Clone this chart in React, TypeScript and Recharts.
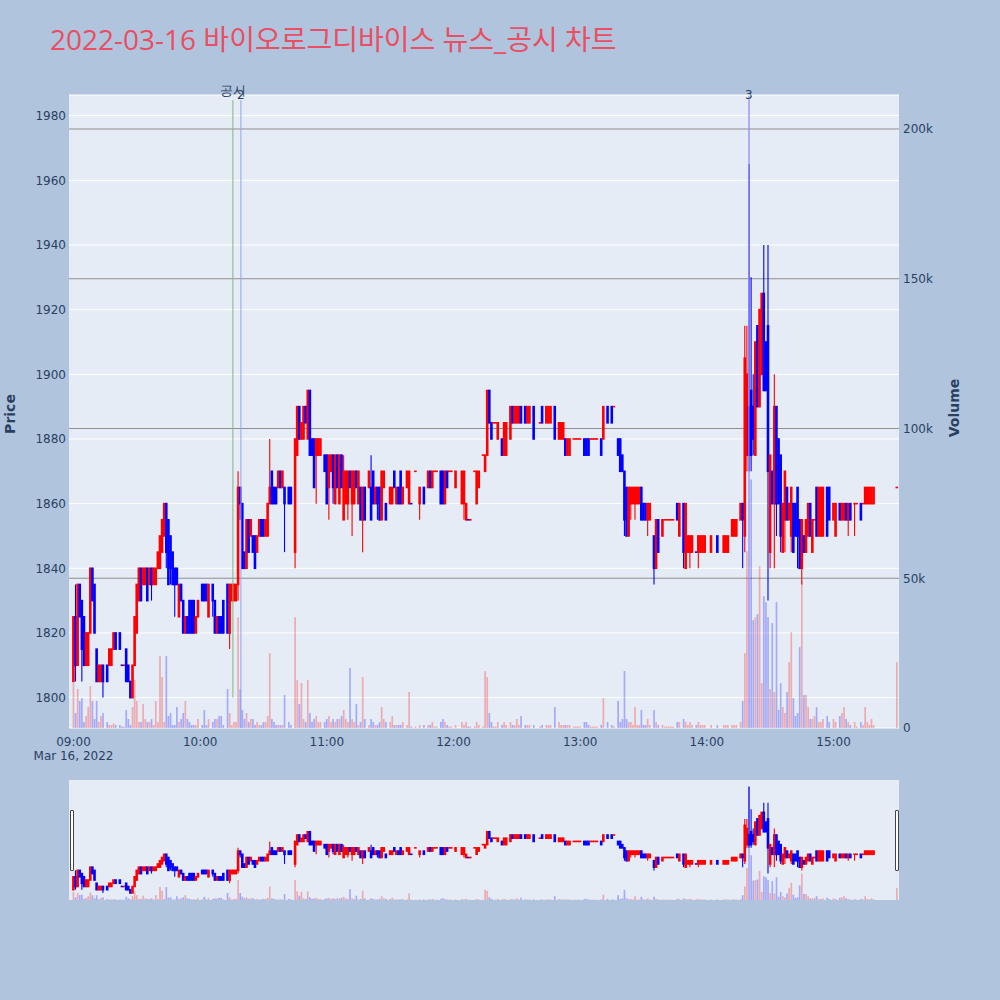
import React from 'react'
import { ComposedChart, Bar, XAxis, YAxis, CartesianGrid, ReferenceLine } from 'recharts'

const RED = '#FF0000'
const BLUE = '#0000FF'
const AXIS_COLOR = '#2a3f5f'
const TITLE_COLOR = '#E94E62'
const FONT = '"DejaVu Sans", Verdana, sans-serif'

const title = '2022-03-16 바이오로그디바이스 뉴스_공시 차트'
const dateLabel = 'Mar 16, 2022'

// minutes after 09:00 with trades (one row per line = one hour)
const minutes = [
  0, 1, 2, 3, 4, 5, 6, 7, 8, 9, 10, 11, 12, 13, 14, 16, 17, 18, 19, 20, 22, 23, 24, 25, 26, 27, 28, 29, 30, 31, 32, 33, 34, 35, 36, 37, 38, 39, 40, 41, 42, 43, 44, 45, 46, 47, 48, 49, 50, 51, 52, 53, 54, 55, 56, 57, 58, 59,
  61, 62, 63, 64, 66, 67, 68, 69, 70, 71, 73, 74, 75, 76, 77, 78, 79, 80, 81, 82, 83, 84, 85, 86, 87, 88, 89, 90, 91, 92, 93, 94, 95, 96, 97, 98, 99, 100, 102, 103, 105, 106, 107, 108, 109, 110, 111, 112, 113, 114, 115, 116, 117, 119,
  120, 121, 122, 123, 124, 125, 126, 127, 128, 129, 130, 131, 132, 133, 134, 135, 136, 137, 138, 140, 141, 142, 143, 144, 145, 146, 147, 148, 150, 151, 152, 153, 154, 155, 156, 158, 159, 160, 162, 164, 166, 168, 169, 170, 171, 172, 174, 175, 176, 177, 178, 179,
  181, 184, 185, 186, 187, 188, 190, 191, 192, 194, 195, 196, 197, 198, 199, 200, 201, 203, 204, 205, 207, 208, 209, 210, 211, 212, 214, 215, 216, 218, 221, 222, 224, 225, 226, 228, 230, 231, 232, 233, 234, 235, 237, 238, 239,
  240, 242, 243, 244, 245, 246, 247, 248, 250, 251, 253, 255, 256, 258, 259, 260, 261, 262, 263, 264, 265, 266, 267, 268, 269, 270, 271, 272, 273, 275, 276, 277, 279, 280, 281, 282, 283, 284, 286, 287, 289, 290, 291, 292, 293, 295, 296, 297, 298, 299,
  302, 305, 308, 309, 310, 312, 313, 314, 316, 317, 318, 319, 320, 321, 322, 323, 324, 325, 326, 327, 328, 329, 330, 331, 332, 333, 334, 335, 336, 337, 338, 339, 340, 341, 342, 343, 344, 345, 346, 347, 348, 349, 350, 351, 352, 353, 354, 355, 357, 358,
  360, 361, 363, 364, 365, 366, 367, 368, 370, 371, 373, 374, 375, 376, 377, 378, 379, 390,
]

const opens = [
  1805, 1825, 1810, 1835, 1830, 1825, 1810, 1810, 1820, 1840, 1835, 1815, 1805, 1805, 1810, 1810, 1810, 1810, 1815, 1820, 1820, 1810, 1810, 1815, 1810, 1805, 1800, 1810, 1820, 1830, 1840, 1835, 1835, 1840, 1835, 1840, 1835, 1835, 1840, 1840, 1845, 1850, 1860, 1855, 1850, 1845, 1840, 1840, 1825, 1835, 1830, 1820, 1825, 1830, 1830, 1830, 1820, 1825,
  1835, 1835, 1835, 1825, 1835, 1830, 1820, 1825, 1825, 1830, 1835, 1820, 1830, 1830, 1830, 1835, 1865, 1860, 1845, 1840, 1855, 1850, 1850, 1850, 1845, 1850, 1855, 1855, 1850, 1850, 1860, 1870, 1865, 1865, 1865, 1870, 1865, 1865, 1865, 1865, 1845, 1875, 1890, 1880, 1880, 1890, 1880, 1895, 1880, 1880, 1875, 1875, 1875, 1875,
  1875, 1865, 1870, 1875, 1860, 1875, 1860, 1875, 1855, 1860, 1860, 1870, 1860, 1860, 1870, 1860, 1865, 1855, 1865, 1865, 1865, 1870, 1860, 1865, 1865, 1855, 1865, 1860, 1860, 1860, 1870, 1860, 1865, 1870, 1860, 1865, 1860, 1860, 1870, 1860, 1865, 1865, 1870, 1865, 1870, 1870, 1870, 1870, 1860, 1870, 1870, 1870,
  1865, 1860, 1860, 1855, 1855, 1855, 1870, 1860, 1865, 1875, 1870, 1875, 1895, 1885, 1885, 1885, 1880, 1880, 1875, 1875, 1880, 1890, 1885, 1885, 1885, 1890, 1890, 1885, 1885, 1890, 1885, 1890, 1885, 1885, 1885, 1890, 1880, 1880, 1880, 1880, 1875, 1875, 1880, 1880, 1880,
  1880, 1880, 1880, 1880, 1880, 1880, 1880, 1880, 1880, 1880, 1890, 1890, 1890, 1880, 1880, 1875, 1870, 1865, 1850, 1860, 1860, 1860, 1860, 1860, 1865, 1860, 1860, 1855, 1855, 1850, 1840, 1855, 1850, 1855, 1855, 1855, 1855, 1855, 1860, 1850, 1860, 1840, 1845, 1845, 1845, 1845, 1845, 1845, 1845, 1845,
  1845, 1850, 1845, 1845, 1845, 1850, 1850, 1850, 1855, 1860, 1850, 1875, 1890, 1895, 1890, 1875, 1915, 1890, 1900, 1925, 1910, 1915, 1845, 1870, 1860, 1890, 1880, 1875, 1845, 1855, 1865, 1855, 1850, 1860, 1860, 1865, 1855, 1840, 1850, 1845, 1850, 1860, 1845, 1855, 1865, 1850, 1850, 1850, 1865, 1865,
  1855, 1850, 1860, 1855, 1855, 1860, 1855, 1860, 1860, 1860, 1860, 1860, 1860, 1860, 1860, 1860, 1860, 1865,
]

const highs = [
  1825, 1835, 1835, 1835, 1830, 1825, 1820, 1820, 1840, 1840, 1835, 1815, 1810, 1810, 1810, 1810, 1815, 1815, 1820, 1820, 1820, 1810, 1810, 1815, 1810, 1805, 1810, 1825, 1835, 1840, 1840, 1840, 1840, 1840, 1840, 1840, 1840, 1840, 1845, 1850, 1855, 1860, 1860, 1855, 1850, 1845, 1840, 1840, 1835, 1835, 1830, 1825, 1825, 1830, 1830, 1830, 1825, 1830,
  1835, 1835, 1835, 1835, 1835, 1830, 1825, 1825, 1825, 1830, 1835, 1835, 1835, 1835, 1835, 1870, 1865, 1860, 1845, 1855, 1855, 1855, 1850, 1850, 1850, 1855, 1855, 1855, 1855, 1860, 1880, 1870, 1865, 1865, 1870, 1870, 1870, 1865, 1865, 1865, 1880, 1890, 1890, 1885, 1890, 1890, 1895, 1895, 1880, 1880, 1880, 1880, 1880, 1875,
  1875, 1875, 1875, 1875, 1875, 1875, 1875, 1875, 1875, 1870, 1870, 1870, 1870, 1870, 1870, 1870, 1865, 1865, 1865, 1870, 1875, 1870, 1865, 1865, 1865, 1870, 1870, 1860, 1865, 1865, 1870, 1865, 1865, 1870, 1865, 1870, 1870, 1860, 1870, 1865, 1865, 1870, 1870, 1870, 1870, 1870, 1870, 1870, 1870, 1870, 1870, 1870,
  1870, 1870, 1870, 1860, 1855, 1855, 1870, 1870, 1870, 1875, 1875, 1895, 1895, 1885, 1885, 1885, 1885, 1880, 1885, 1885, 1890, 1890, 1890, 1890, 1890, 1890, 1890, 1890, 1890, 1890, 1885, 1890, 1890, 1890, 1890, 1890, 1885, 1885, 1885, 1880, 1880, 1880, 1880, 1880, 1880,
  1880, 1880, 1880, 1880, 1880, 1880, 1880, 1880, 1880, 1890, 1890, 1890, 1890, 1880, 1880, 1875, 1870, 1865, 1865, 1865, 1865, 1865, 1865, 1865, 1865, 1860, 1860, 1860, 1860, 1850, 1855, 1855, 1855, 1855, 1855, 1855, 1855, 1855, 1860, 1860, 1860, 1860, 1850, 1850, 1850, 1845, 1850, 1850, 1850, 1850,
  1850, 1850, 1850, 1850, 1850, 1855, 1855, 1855, 1860, 1860, 1915, 1915, 1965, 1930, 1900, 1910, 1915, 1920, 1925, 1940, 1910, 1940, 1875, 1870, 1900, 1890, 1880, 1875, 1860, 1870, 1865, 1860, 1865, 1860, 1860, 1865, 1855, 1855, 1850, 1855, 1860, 1860, 1855, 1855, 1865, 1865, 1865, 1865, 1865, 1865,
  1860, 1860, 1860, 1860, 1860, 1860, 1860, 1860, 1860, 1860, 1860, 1860, 1865, 1865, 1865, 1865, 1865, 1865,
]

const lows = [
  1805, 1805, 1810, 1825, 1805, 1810, 1810, 1810, 1820, 1830, 1820, 1805, 1805, 1805, 1800, 1805, 1810, 1810, 1815, 1815, 1815, 1810, 1810, 1805, 1805, 1800, 1800, 1810, 1820, 1830, 1830, 1835, 1835, 1830, 1835, 1830, 1835, 1835, 1840, 1840, 1845, 1850, 1840, 1835, 1835, 1835, 1825, 1835, 1825, 1830, 1820, 1820, 1820, 1820, 1820, 1820, 1820, 1825,
  1830, 1830, 1830, 1825, 1825, 1820, 1820, 1820, 1820, 1820, 1820, 1815, 1830, 1830, 1830, 1830, 1855, 1840, 1840, 1840, 1845, 1850, 1845, 1840, 1845, 1850, 1850, 1850, 1850, 1850, 1860, 1860, 1860, 1860, 1865, 1865, 1865, 1845, 1860, 1860, 1840, 1875, 1880, 1880, 1880, 1885, 1880, 1875, 1875, 1865, 1860, 1875, 1875, 1870,
  1860, 1855, 1870, 1860, 1860, 1865, 1860, 1865, 1855, 1860, 1855, 1865, 1850, 1860, 1865, 1860, 1855, 1845, 1855, 1865, 1855, 1860, 1860, 1855, 1855, 1855, 1865, 1855, 1860, 1860, 1865, 1860, 1860, 1860, 1860, 1865, 1860, 1860, 1870, 1855, 1860, 1865, 1865, 1865, 1870, 1870, 1860, 1860, 1860, 1865, 1870, 1870,
  1865, 1860, 1855, 1855, 1855, 1855, 1870, 1860, 1865, 1875, 1870, 1875, 1885, 1880, 1885, 1885, 1880, 1875, 1875, 1875, 1880, 1885, 1885, 1885, 1885, 1885, 1885, 1885, 1885, 1880, 1885, 1885, 1885, 1885, 1885, 1880, 1880, 1880, 1880, 1875, 1875, 1875, 1880, 1880, 1880,
  1880, 1875, 1875, 1875, 1880, 1880, 1880, 1880, 1875, 1880, 1885, 1885, 1890, 1875, 1870, 1870, 1850, 1850, 1850, 1855, 1860, 1855, 1860, 1860, 1855, 1855, 1855, 1850, 1855, 1835, 1840, 1845, 1850, 1855, 1855, 1855, 1855, 1855, 1855, 1850, 1840, 1840, 1845, 1840, 1845, 1845, 1840, 1845, 1845, 1845,
  1845, 1845, 1845, 1845, 1845, 1850, 1850, 1850, 1855, 1840, 1845, 1870, 1870, 1870, 1875, 1875, 1890, 1890, 1900, 1895, 1895, 1830, 1840, 1860, 1840, 1850, 1860, 1845, 1845, 1845, 1855, 1855, 1845, 1845, 1850, 1840, 1840, 1835, 1845, 1845, 1850, 1850, 1845, 1855, 1850, 1850, 1850, 1850, 1850, 1855,
  1855, 1850, 1855, 1855, 1855, 1855, 1850, 1855, 1850, 1860, 1855, 1860, 1860, 1860, 1860, 1860, 1860, 1865,
]

const closes = [
  1825, 1810, 1835, 1825, 1815, 1810, 1820, 1820, 1840, 1830, 1820, 1805, 1810, 1810, 1805, 1805, 1815, 1815, 1820, 1815, 1815, 1810, 1810, 1805, 1805, 1800, 1810, 1825, 1835, 1840, 1830, 1840, 1840, 1830, 1840, 1835, 1840, 1840, 1845, 1850, 1855, 1860, 1845, 1835, 1840, 1835, 1835, 1835, 1835, 1830, 1820, 1825, 1820, 1820, 1820, 1820, 1825, 1830,
  1830, 1830, 1830, 1835, 1830, 1820, 1825, 1820, 1820, 1820, 1820, 1835, 1835, 1835, 1835, 1865, 1860, 1840, 1840, 1855, 1845, 1855, 1845, 1840, 1850, 1855, 1850, 1850, 1855, 1860, 1865, 1860, 1860, 1860, 1870, 1865, 1870, 1860, 1860, 1860, 1880, 1890, 1880, 1885, 1890, 1885, 1895, 1875, 1875, 1865, 1880, 1880, 1880, 1870,
  1860, 1875, 1875, 1865, 1875, 1865, 1875, 1865, 1870, 1870, 1870, 1865, 1870, 1870, 1865, 1870, 1855, 1865, 1855, 1870, 1855, 1860, 1865, 1860, 1855, 1870, 1870, 1855, 1865, 1865, 1865, 1865, 1860, 1860, 1865, 1870, 1870, 1860, 1870, 1865, 1860, 1870, 1865, 1870, 1870, 1870, 1860, 1860, 1870, 1865, 1870, 1870,
  1870, 1870, 1870, 1860, 1855, 1855, 1870, 1870, 1870, 1875, 1875, 1895, 1885, 1880, 1885, 1885, 1885, 1875, 1885, 1885, 1890, 1885, 1890, 1890, 1890, 1885, 1885, 1890, 1890, 1880, 1885, 1885, 1890, 1890, 1890, 1880, 1885, 1885, 1885, 1875, 1880, 1880, 1880, 1880, 1880,
  1880, 1875, 1875, 1875, 1880, 1880, 1880, 1880, 1875, 1890, 1885, 1885, 1890, 1875, 1870, 1870, 1855, 1850, 1865, 1865, 1865, 1865, 1865, 1865, 1855, 1855, 1855, 1860, 1860, 1840, 1855, 1845, 1855, 1855, 1855, 1855, 1855, 1855, 1855, 1860, 1845, 1860, 1850, 1850, 1850, 1845, 1850, 1850, 1850, 1850,
  1850, 1845, 1850, 1850, 1850, 1855, 1855, 1855, 1860, 1855, 1905, 1900, 1875, 1875, 1880, 1910, 1890, 1920, 1925, 1895, 1895, 1870, 1875, 1860, 1890, 1860, 1860, 1850, 1860, 1870, 1855, 1860, 1865, 1845, 1850, 1850, 1840, 1855, 1845, 1855, 1860, 1850, 1855, 1855, 1850, 1865, 1865, 1865, 1850, 1855,
  1860, 1860, 1855, 1860, 1860, 1855, 1860, 1855, 1860, 1860, 1855, 1860, 1865, 1865, 1865, 1865, 1865, 1865,
]

const volumes = [
  15000, 5000, 13000, 9000, 10000, 2000, 4000, 7000, 14000, 9000, 3000, 9000, 2000, 4000, 5000, 2000, 1000, 1000, 1500, 1000, 1000, 500, 500, 6000, 3000, 1000, 7000, 16000, 9000, 2000, 2000, 8000, 3000, 2000, 2000, 3000, 1000, 9000, 2000, 24000, 17000, 2000, 24000, 4000, 5000, 1000, 1000, 7000, 2000, 3000, 5000, 9000, 3000, 2000, 1000, 1000, 1000, 3000,
  1000, 6000, 1000, 3000, 2000, 3000, 3000, 4000, 4000, 1000, 13000, 5000, 1000, 2000, 2000, 37000, 13000, 6000, 3000, 5000, 2000, 3000, 3000, 1000, 2000, 1000, 1000, 2000, 2000, 4000, 25000, 3000, 2000, 1000, 1000, 1000, 1000, 11000, 2000, 1000, 37000, 16000, 8000, 15000, 3000, 2000, 16000, 5000, 2000, 3000, 4000, 2000, 2000, 2000,
  3000, 4000, 2000, 3000, 2000, 3000, 3000, 4000, 6000, 3000, 2000, 20000, 3000, 2000, 8000, 1000, 2000, 17000, 3000, 1000, 3000, 2000, 1000, 1000, 2000, 7000, 3000, 2000, 2000, 4000, 1000, 1000, 1000, 1000, 2000, 1000, 12000, 500, 500, 1000, 1000, 1000, 1000, 2000, 500, 500, 2000, 3000, 2000, 1000, 500, 500,
  1000, 2000, 1000, 2000, 500, 500, 500, 2000, 1000, 500, 19000, 17000, 5000, 2000, 500, 500, 2000, 1000, 2000, 1000, 2000, 1000, 1000, 3000, 1000, 4000, 1000, 1000, 1000, 1000, 500, 1000, 1000, 1000, 1000, 7000, 2000, 1000, 1000, 1000, 1000, 1000, 500, 500, 500,
  500, 2000, 2000, 1000, 500, 500, 500, 500, 1000, 10000, 2000, 1000, 500, 9000, 2000, 3000, 19000, 3000, 2000, 2000, 1000, 7000, 1000, 1000, 6000, 1000, 1000, 3000, 1000, 6000, 2000, 1000, 1000, 500, 500, 500, 500, 500, 2000, 2000, 3000, 2000, 1000, 2000, 1000, 1000, 2000, 1000, 1000, 1000,
  1000, 1000, 1000, 1000, 1000, 1000, 1000, 1000, 2000, 9000, 25000, 59000, 211000, 83000, 36000, 37000, 38000, 54000, 15000, 44000, 42000, 37000, 13000, 35000, 12000, 42000, 6000, 15000, 7000, 5000, 12000, 22000, 32000, 10000, 4000, 5000, 27000, 49000, 11000, 11000, 7000, 3000, 3000, 4000, 7000, 2000, 2000, 3000, 4000, 2000,
  3000, 2000, 4000, 5000, 7000, 3000, 2000, 1000, 2000, 500, 2000, 1000, 7000, 2000, 1000, 3000, 1000, 22000,
]

const priceTicks = [1800, 1820, 1840, 1860, 1880, 1900, 1920, 1940, 1960, 1980]
const volumeTicks = [0, 50000, 100000, 150000, 200000]
const timeTicks = [0, 60, 120, 180, 240, 300, 360]
const timeLabels = ['09:00', '10:00', '11:00', '12:00', '13:00', '14:00', '15:00']

// news markers (minutes after 09:00)
const newsMinutes = [75.5, 79.3, 319.9]
const newsLabels = ['공시', '2', '3']
const newsColors = ['#7fb87f', '#8ca4f2', '#a9a9f5']

const X_DOMAIN: [number, number] = [-2.13, 391]
const PRICE_DOMAIN: [number, number] = [1790.6, 1986.4]
const VOL_DOMAIN: [number, number] = [0, 211350]

const rows = minutes.map((t, i) => {
  const prev = i > 0 ? closes[i - 1] : opens[i]
  const up = closes[i] > opens[i] || (closes[i] === opens[i] && closes[i] >= prev)
  return {
    t,
    open: opens[i],
    high: highs[i],
    low: lows[i],
    close: closes[i],
    volume: volumes[i],
    range: [lows[i], highs[i]],
    up,
  }
})

function Candle(props: any) {
  const { x, y, width, height, payload } = props
  if (x == null || y == null || !payload) return null
  const top = Math.min(y, y + height)
  const span = Math.abs(height)
  const cx = x + width / 2
  const { open, close, high, low, up } = payload
  const color = up ? RED : BLUE
  const unit = high > low ? span / (high - low) : 0
  const bodyTop = top + (high - Math.max(open, close)) * unit
  const bodyBottom = top + (high - Math.min(open, close)) * unit
  return (
    <g>
      {span > 0 && <line x1={cx} x2={cx} y1={top} y2={top + span} stroke={color} strokeWidth={1.1} />}
      <rect x={cx - 1.3} y={bodyTop - 0.8} width={2.6} height={bodyBottom - bodyTop + 1.6} fill={color} />
    </g>
  )
}

function VolumeBar(props: any) {
  const { x, y, width, height, payload } = props
  if (x == null || y == null || !payload) return null
  const top = Math.min(y, y + height)
  const cx = x + width / 2
  return <rect x={cx - 0.85} y={top} width={1.7} height={Math.abs(height)} fill={payload.up ? RED : BLUE} fillOpacity={0.28} />
}

function TimeTick(props: any) {
  const { x, y, payload } = props
  const i = timeTicks.indexOf(payload.value)
  return (
    <g>
      <text x={x} y={y + 18} textAnchor="middle" fontSize={12} fill={AXIS_COLOR} fontFamily={FONT}>
        {timeLabels[i]}
      </text>
      {i === 0 && (
        <text x={x} y={y + 32} textAnchor="middle" fontSize={12} fill={AXIS_COLOR} fontFamily={FONT}>
          {dateLabel}
        </text>
      )}
    </g>
  )
}

function NewsLabel(props: any) {
  const { viewBox, text, dy, size } = props
  if (!viewBox) return null
  return (
    <text x={viewBox.x} y={viewBox.y + dy} textAnchor="middle" fontSize={size} fill={AXIS_COLOR} fontFamily={FONT}>
      {text}
    </text>
  )
}

const fmtVolume = (v: number) => (v === 0 ? '0' : `${v / 1000}k`)

export default function App() {
  return (
    <div style={{ position: 'absolute', left: 0, top: 0, width: 1000, height: 1000, background: '#B0C4DE' }}>
      <svg width={1000} height={1000} style={{ position: 'absolute', left: 0, top: 0 }}>
        <text x={50} y={50} fontSize={28} fill={TITLE_COLOR} fontFamily='"Open Sans", "Noto Sans CJK KR", sans-serif'>
          {title}
        </text>
        <text transform="translate(15, 414) rotate(-90)" textAnchor="middle" fontSize={14} fontWeight="bold" fill={AXIS_COLOR} fontFamily={FONT}>
          Price
        </text>
        <text transform="translate(959, 408) rotate(-90)" textAnchor="middle" fontSize={14} fontWeight="bold" fill={AXIS_COLOR} fontFamily={FONT}>
          Volume
        </text>
      </svg>

      <div style={{ position: 'absolute', left: 0, top: 0 }}>
        <ComposedChart width={1000} height={770} data={rows} margin={{ top: 95, right: 0, bottom: 0, left: 0 }}>
          <CartesianGrid xAxisId="x" yAxisId="price" vertical={false} stroke="#ffffff" fill="#E5ECF6" fillOpacity={1} />
          <CartesianGrid xAxisId="x" yAxisId="vol" vertical={false} horizontalValues={volumeTicks.slice(1)} stroke="#8f8f8f" />
          <XAxis
            xAxisId="x"
            dataKey="t"
            type="number"
            domain={X_DOMAIN}
            allowDataOverflow
            ticks={timeTicks}
            interval={0}
            height={42}
            axisLine={false}
            tickLine={false}
            tickSize={0}
            tickMargin={0}
            tick={<TimeTick />}
          />
          <XAxis xAxisId="xv" dataKey="t" type="number" domain={X_DOMAIN} allowDataOverflow hide />
          <YAxis
            yAxisId="price"
            orientation="left"
            width={69}
            domain={PRICE_DOMAIN}
            allowDataOverflow
            ticks={priceTicks}
            interval={0}
            axisLine={false}
            tickLine={false}
            tickSize={0}
            tickMargin={3}
            tick={{ fontSize: 12, fill: AXIS_COLOR, fontFamily: FONT }}
          />
          <YAxis
            yAxisId="vol"
            orientation="right"
            width={101}
            domain={VOL_DOMAIN}
            allowDataOverflow
            ticks={volumeTicks}
            interval={0}
            tickFormatter={fmtVolume}
            axisLine={false}
            tickLine={false}
            tickSize={0}
            tickMargin={4}
            tick={{ fontSize: 12, fill: AXIS_COLOR, fontFamily: FONT, textAnchor: 'start' }}
          />
          <Bar xAxisId="xv" yAxisId="vol" dataKey="volume" shape={<VolumeBar />} barSize={2} isAnimationActive={false} />
          <ReferenceLine
            xAxisId="x"
            yAxisId="price"
            segment={[{ x: newsMinutes[0], y: 1800 }, { x: newsMinutes[0], y: 1984.8 }]}
            stroke={newsColors[0]}
            strokeWidth={1}
            label={<NewsLabel text={newsLabels[0]} dy={-5} size={13} />}
          />
          <ReferenceLine
            xAxisId="x"
            yAxisId="price"
            segment={[{ x: newsMinutes[1], y: PRICE_DOMAIN[0] }, { x: newsMinutes[1], y: 1984.8 }]}
            stroke={newsColors[1]}
            strokeWidth={1}
            label={<NewsLabel text={newsLabels[1]} dy={-1} size={12} />}
          />
          <ReferenceLine
            xAxisId="x"
            yAxisId="price"
            segment={[{ x: newsMinutes[2], y: PRICE_DOMAIN[0] }, { x: newsMinutes[2], y: 1984.8 }]}
            stroke={newsColors[2]}
            strokeWidth={1}
            label={<NewsLabel text={newsLabels[2]} dy={-1} size={12} />}
          />
          <Bar xAxisId="x" yAxisId="price" dataKey="range" shape={<Candle />} barSize={3} isAnimationActive={false} />
        </ComposedChart>
      </div>

      <div style={{ position: 'absolute', left: 0, top: 780 }}>
        <ComposedChart width={1000} height={120} data={rows} margin={{ top: 0, right: 101, bottom: 0, left: 69 }}>
          <CartesianGrid xAxisId="x" yAxisId="price" vertical={false} horizontal={false} fill="#E5ECF6" fillOpacity={1} />
          <XAxis xAxisId="x" dataKey="t" type="number" domain={X_DOMAIN} allowDataOverflow hide />
          <XAxis xAxisId="xv" dataKey="t" type="number" domain={X_DOMAIN} allowDataOverflow hide />
          <YAxis yAxisId="price" domain={[1789, 1975.4]} allowDataOverflow hide />
          <YAxis yAxisId="vol" orientation="right" domain={[0, 222600]} allowDataOverflow hide />
          <Bar xAxisId="xv" yAxisId="vol" dataKey="volume" shape={<VolumeBar />} barSize={2} isAnimationActive={false} />
          <Bar xAxisId="x" yAxisId="price" dataKey="range" shape={<Candle />} barSize={3} isAnimationActive={false} />
        </ComposedChart>
      </div>

      <div style={{ position: 'absolute', left: 69.5, top: 810, width: 2, height: 59, background: '#ffffff', border: '1px solid #444', borderRadius: 1 }} />
      <div style={{ position: 'absolute', left: 895, top: 810, width: 2, height: 59, background: '#ffffff', border: '1px solid #444', borderRadius: 1 }} />
    </div>
  )
}
